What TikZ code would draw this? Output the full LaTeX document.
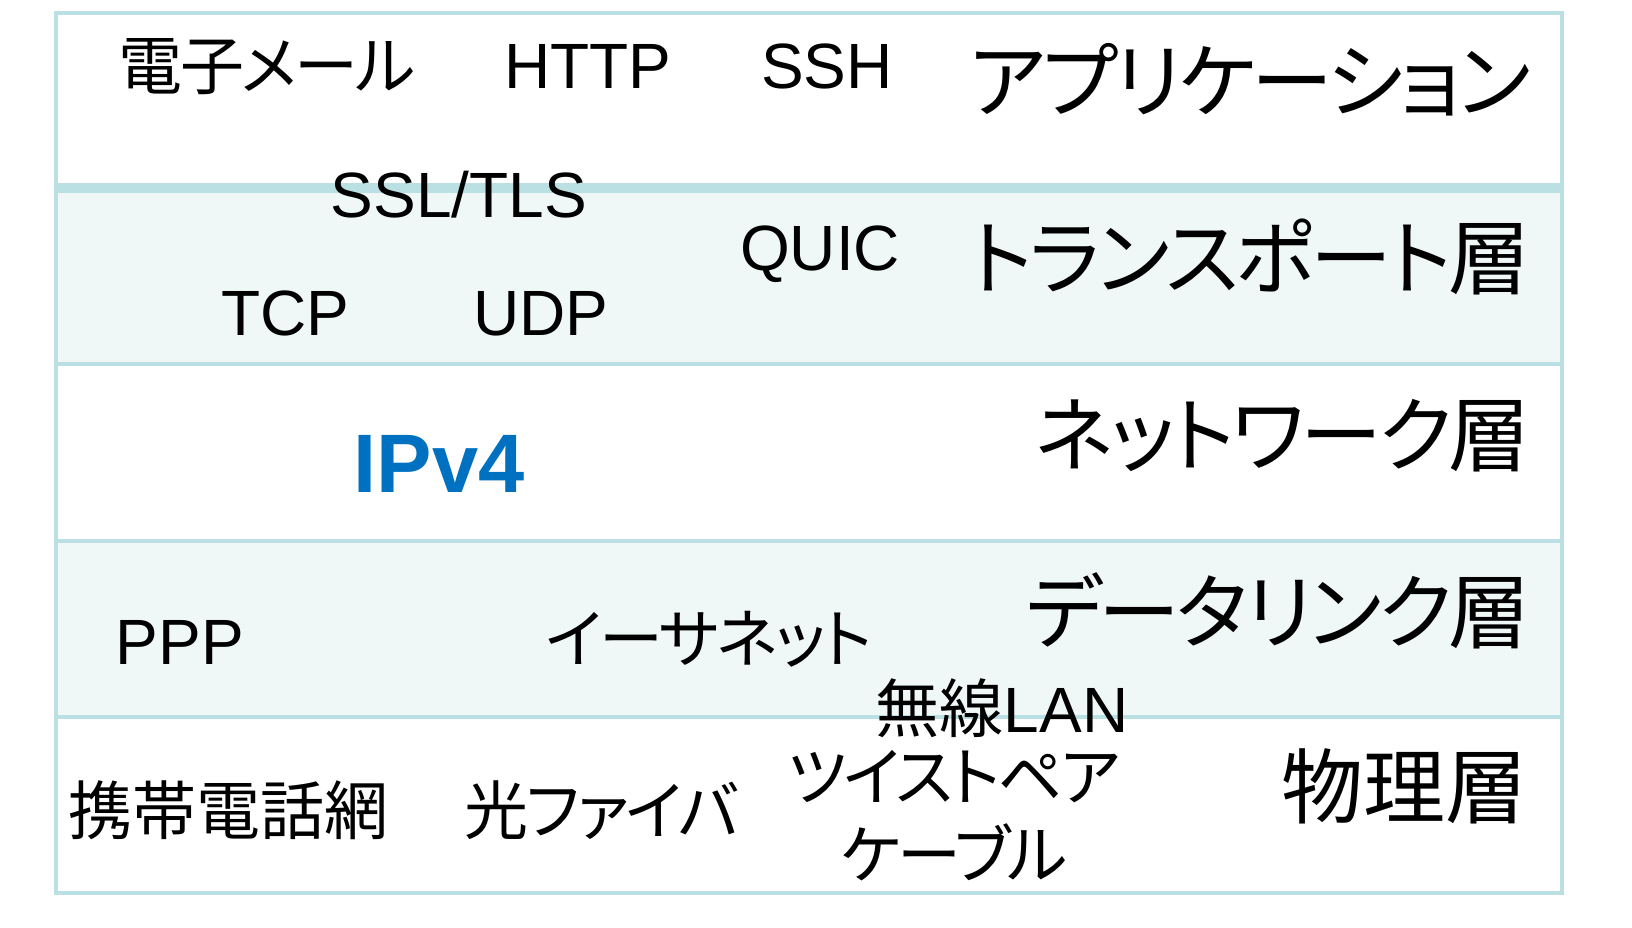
\documentclass[tikz,border=0pt]{standalone}
\usepackage{fontspec}
\setmainfont{Liberation Sans}
\newfontfamily\jp[RawFeature=+palt]{Noto Sans CJK JP}
\newfontfamily\jpk[RawFeature=+palt,LetterSpace=-4]{Noto Sans CJK JP}
\definecolor{bord}{RGB}{187,224,228}
\definecolor{band}{RGB}{240,248,247}
\definecolor{ipblue}{RGB}{0,112,192}
\begin{document}
\begin{tikzpicture}[x=1pt,y=-1pt,
  lbl/.style={inner sep=0pt, anchor=base, font=\fontsize{64}{78}\selectfont},
  jlbl/.style={lbl, font=\jp\fontsize{64}{78}\selectfont},
  klbl/.style={lbl, font=\jpk\fontsize{64}{78}\selectfont},
  layername/.style={inner sep=0pt, anchor=base east, font=\jpk\fontsize{82}{96}\selectfont},
  kanjilayer/.style={inner sep=0pt, anchor=base east, font=\jp\fontsize{82}{96}\selectfont},
  bandfill/.style={fill=band, draw=none},
  rule/.style={draw=bord, line width=4.5pt}]
\useasboundingbox (0,0) rectangle (1632,928);
% bands
\fill[white] (56,13) rectangle (1562,893);
\path[bandfill] (56,188) rectangle (1562,364);
\path[bandfill] (56,541) rectangle (1562,717);
% borders
\draw[rule] (56,13) rectangle (1562,893);
\draw[draw=bord, line width=10pt] (56,188) -- (1562,188);
\draw[rule] (56,364) -- (1562,364);
\draw[rule] (56,541) -- (1562,541);
\draw[rule] (56,717) -- (1562,717);
% application
\node[klbl] (email) at (267,90) {電子メール};
\node[lbl] (http) at (588,89) {HTTP};
\node[lbl] (ssh) at (827,89) {SSH};
\node[layername] (app) at (1531,112) {アプリケーション};
% transport
\node[lbl] (ssl) at (459,218) {SSL/TLS};
\node[lbl] (quic) at (820,270) {QUIC};
\node[lbl] (tcp) at (285,335) {TCP};
\node[lbl] (udp) at (541,335) {UDP};
\node[layername] (transport) at (1531,288) {トランスポート層};
% network
\node[inner sep=0pt, anchor=base, text=ipblue, font=\fontsize{83}{96}\selectfont\bfseries] (ipv4) at (439,492) {IPv4};
\node[layername] (network) at (1531,465) {ネットワーク層};
% data link
\node[lbl] (ppp) at (180,664) {PPP};
\node[klbl] (ether) at (709,662) {イーサネット};
\node[lbl] (wlan) at (1002,732) {{\jp 無線}LAN};
\node[layername] (datalink) at (1531,642) {データリンク層};
% physical
\node[klbl, align=center] (twisted) at (954,878) {ツイストペア\\ケーブル};
\node[jlbl] (mobile) at (228,834) {携帯電話網};
\node[klbl] (fiber) at (602,834) {光ファイバ};
\node[kanjilayer] (physical) at (1528,817) {物理層};
\end{tikzpicture}
\end{document}
